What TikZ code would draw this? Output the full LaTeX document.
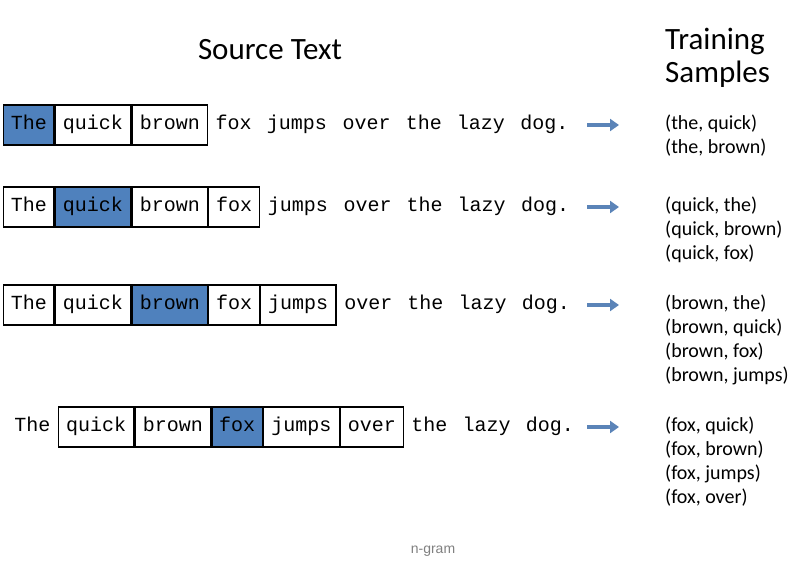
\documentclass[tikz,border=0pt]{standalone}
\usepackage{fontspec}
\setmonofont{Liberation Mono}
\setsansfont{Carlito}
\newfontfamily\capfont{Liberation Sans}
\usetikzlibrary{positioning,arrows.meta}
\definecolor{wordblue}{HTML}{4F81BD}
\definecolor{arrowblue}{HTML}{5B84B8}
\begin{document}
\begin{tikzpicture}
    [
    x=1pt,y=-1pt,
    word/.style={inner sep=0pt,minimum height=40pt,font=\ttfamily\fontsize{20}{20}\selectfont,text height=13pt,text depth=4pt},
    boxed/.style={word,draw,line width=1.2pt},
    hit/.style={boxed,fill=wordblue},
    plain/.style={word},
    sample/.style={anchor=west,font=\sffamily\fontsize{20}{20}\selectfont,inner sep=0pt,text height=13pt,text depth=4pt},
    title/.style={font=\sffamily\fontsize{31}{33}\selectfont,inner sep=0pt}
    ]
    \useasboundingbox (0,0) rectangle (800,568);

    \node (src) at (270,50) [title] {Source Text};
    \node (trn) at (665,58) [title,anchor=west,align=left] {Training\\Samples};

    % rows of words
    \foreach \row/\y/\x/\styles in {
      1/125/3/{hit,boxed,boxed,plain,plain,plain,plain,plain,plain},
      2/207/3/{boxed,hit,boxed,boxed,plain,plain,plain,plain,plain},
      3/305/3/{boxed,boxed,hit,boxed,boxed,plain,plain,plain,plain},
      4/427/7/{plain,boxed,boxed,hit,boxed,boxed,plain,plain,plain}}
    {
      \coordinate (r\row-0) at (\x,\y);
      \foreach \w/\n [count=\i] in {The/3,quick/5,brown/5,fox/3,jumps/5,over/4,the/3,lazy/4,dog./4}
      {
        \pgfmathtruncatemacro{\prev}{\i-1}
        \pgfmathsetmacro{\boxw}{(\n+1)*12.6}
        \foreach \s [count=\j] in \styles {
          \ifnum\j=\i
            \node (r\row-\i) [\s,minimum width=\boxw pt,anchor=west] at (r\row-\prev.east) {\w};
          \fi
        }
      }
      \coordinate (a\row) at (587,\y);
      \coordinate (b\row) at (619,\y);
      \draw [arrowblue,line width=3.5pt,-{Triangle[length=9pt,width=12pt]}] (a\row) -- (b\row);
    }

    % training samples
    \node (s1) at (665,125) [sample] {(the, quick)};
    \node (s2) [sample,below=24pt of s1.west,anchor=west] {(the, brown)};

    \node (s3) at (665,207) [sample] {(quick, the)};
    \node (s4) [sample,below=24pt of s3.west,anchor=west] {(quick, brown)};
    \node (s5) [sample,below=24pt of s4.west,anchor=west] {(quick, fox)};

    \node (s6) at (665,305) [sample] {(brown, the)};
    \node (s7) [sample,below=24pt of s6.west,anchor=west] {(brown, quick)};
    \node (s8) [sample,below=24pt of s7.west,anchor=west] {(brown, fox)};
    \node (s9) [sample,below=24pt of s8.west,anchor=west] {(brown, jumps)};

    \node (s10) at (665,427) [sample] {(fox, quick)};
    \node (s11) [sample,below=24pt of s10.west,anchor=west] {(fox, brown)};
    \node (s12) [sample,below=24pt of s11.west,anchor=west] {(fox, jumps)};
    \node (s13) [sample,below=24pt of s12.west,anchor=west] {(fox, over)};

    \node (cap) at (433,551) [font=\capfont\fontsize{14}{14}\selectfont,text=gray] {n-gram};
  \end{tikzpicture}
\end{document}
